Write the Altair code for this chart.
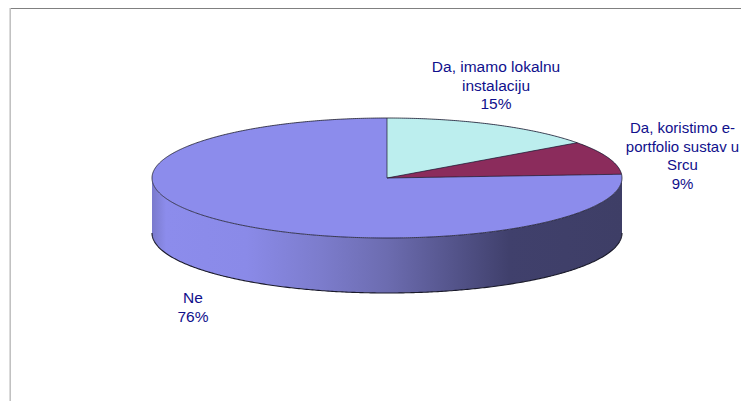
import altair as alt
import numpy as np
import pandas as pd

# Chart values
labels = ["Da, imamo lokalnu\ninstalaciju\n15%", "Da, koristimo e-\nportfolio sustav u\nSrcu\n9%", "Ne\n76%"]
shares = [15, 9, 76]

# Styles and layout (not data)
TOP_BLUE, LIGHT, MAROON = "#8C8CEC", "#BCEEEE", "#8B2C5C"
TEXT = "#10108C"
W, H = 733, 393
CX, CY, RX, RY, DEPTH = 379, 170, 235, 60, 55
label_pos = [(488, 59), (674.5, 120), (185, 290)]
label_size = [15.5, 15, 15.5]

x_scale = alt.Scale(domain=[(0 - CX) / RX, (W - CX) / RX], range=[0, W], nice=False, zero=False)
y_scale = alt.Scale(domain=[(CY - H) / RY, CY / RY], range=[H, 0], nice=False, zero=False)
d = DEPTH / RY


def enc(df_mark, y2=True):
    e = dict(
        x=alt.X("u:Q", scale=x_scale, axis=None),
        y=alt.Y("v:Q", scale=y_scale, axis=None),
    )
    if y2:
        e["y2"] = alt.Y2("v2:Q")
    return df_mark.encode(**e)


# Slice boundary angles, clockwise from the top of the disc
a1 = np.radians(shares[0] / sum(shares) * 360)
a2 = np.radians((shares[0] + shares[1]) / sum(shares) * 360)
u1, v1 = np.sin(a1), np.cos(a1)
u2, v2 = np.sin(a2), np.cos(a2)

t = np.linspace(-np.pi / 2, np.pi / 2, 361)
us = np.sin(t)
rim = np.cos(t)

disc = pd.DataFrame({"u": us, "v": rim, "v2": -rim})
wall = pd.DataFrame({"u": us, "v": -rim, "v2": -rim - d})

tl = np.linspace(0, a1, 120)
light = pd.DataFrame({"u": np.sin(tl), "v": np.cos(tl), "v2": np.sin(tl) * v1 / u1})

tm = np.linspace(a1, a2, 120)
um = np.concatenate([np.linspace(0, u1, 40), np.sin(tm)])
vm = np.concatenate([np.linspace(0, u1, 40) * v1 / u1, np.cos(tm)])
maroon = pd.DataFrame({"u": um, "v": vm, "v2": um * v2 / u2})

gradient = alt.Gradient(
    gradient="linear", x1=0, x2=1, y1=0, y2=0,
    stops=[
        alt.GradientStop(offset=0, color="#7A7ACC"),
        alt.GradientStop(offset=0.03, color="#8C8CEC"),
        alt.GradientStop(offset=0.2, color="#8A8AE8"),
        alt.GradientStop(offset=0.36, color="#7C7CCC"),
        alt.GradientStop(offset=0.5, color="#6C6CB0"),
        alt.GradientStop(offset=0.63, color="#56568E"),
        alt.GradientStop(offset=0.76, color="#40406C"),
        alt.GradientStop(offset=1, color="#3E3E66"),
    ],
)

layers = [
    enc(alt.Chart(wall).mark_area(color=gradient)),
    enc(alt.Chart(disc).mark_area(color=TOP_BLUE)),
    enc(alt.Chart(light).mark_area(color=LIGHT)),
    enc(alt.Chart(maroon).mark_area(color=MAROON)),
]

# Outlines
ta = np.linspace(0, 2 * np.pi, 721)
outline = pd.DataFrame({"u": np.sin(ta), "v": np.cos(ta), "i": np.arange(721)})
bottom = pd.DataFrame({"u": us, "v": -rim - d, "i": np.arange(len(us))})
edges = [
    pd.DataFrame({"u": [0, 0], "v": [1, 0], "i": [0, 1]}),
    pd.DataFrame({"u": [0, u1], "v": [0, v1], "i": [0, 1]}),
    pd.DataFrame({"u": [0, u2], "v": [0, v2], "i": [0, 1]}),
]
for df, sw in [(outline, 0.8), (bottom, 1.1)] + [(e, 0.7) for e in edges]:
    layers.append(
        alt.Chart(df).mark_line(color="#1A1A2A", strokeWidth=sw).encode(
            x=alt.X("u:Q", scale=x_scale, axis=None),
            y=alt.Y("v:Q", scale=y_scale, axis=None),
            order=alt.Order("i:Q"),
        )
    )

# Frame
src = pd.DataFrame({"a": [0]})
layers.append(alt.Chart(src).mark_rule(color="#808080", strokeWidth=1).encode(
    x=alt.value(2), x2=alt.value(W), y=alt.value(0.5)))
layers.append(alt.Chart(src).mark_rule(color="#BEBEBE", strokeWidth=1.5).encode(
    x=alt.value(2.2), y=alt.value(0), y2=alt.value(H)))

# Labels
for text, (px, py), fs in zip(labels, label_pos, label_size):
    layers.append(
        alt.Chart(pd.DataFrame({"t": [text]})).mark_text(
            font="Liberation Sans", fontSize=fs, color=TEXT, align="center",
            baseline="middle", lineBreak="\n", lineHeight=18.5,
        ).encode(text="t:N", x=alt.value(px), y=alt.value(py))
    )

chart = alt.layer(*layers).properties(
    width=W, height=H, padding=0, autosize=alt.AutoSizeParams(type="none"), background="white"
).configure_view(stroke=None)

chart.save("out.html", embed_options={"renderer": "svg", "actions": False})
